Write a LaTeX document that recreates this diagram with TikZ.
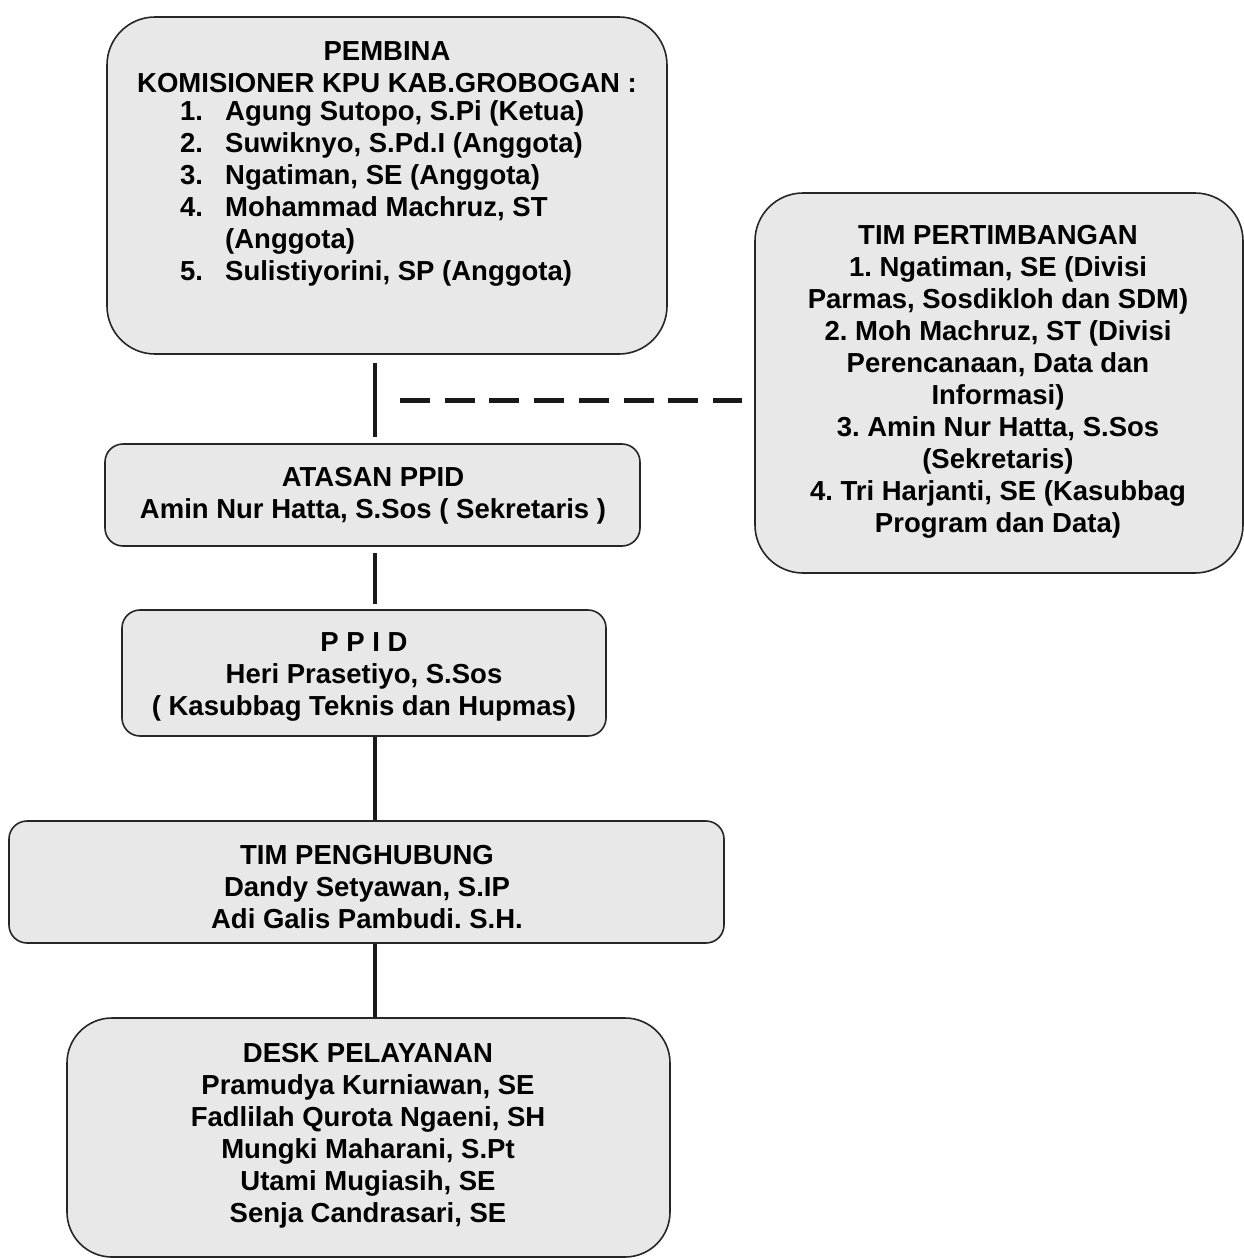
\documentclass[tikz,border=0pt]{standalone}
\usepackage{fontspec}
\setmainfont{Liberation Sans}
\frenchspacing
\begin{document}
\begin{tikzpicture}[x=1pt,y=-1pt,
  box/.style={draw=black!85, line width=1.6pt, fill=black!9, inner sep=0pt},
  bigbox/.style={box, rounded corners=48pt},
  smallbox/.style={box, rounded corners=18pt},
  txt/.style={font=\fontsize{27.5}{32}\selectfont\bfseries, align=center, inner sep=0pt},
  conn/.style={line width=4.5pt, draw=black!90},
  dashline/.style={line width=5pt, draw=black!90, dash pattern=on 30pt off 14.7pt}]
\useasboundingbox (0,0) rectangle (1244,1259);
% boxes
\node[bigbox, minimum width=560pt, minimum height=337pt] (b1) at (387,185.5) {};
\node[bigbox, minimum width=488pt, minimum height=380pt] (b2) at (999,383) {};
\node[smallbox, minimum width=535pt, minimum height=102pt] (b3) at (372.5,495) {};
\node[smallbox, minimum width=484pt, minimum height=126pt] (b4) at (364,673) {};
\node[smallbox, minimum width=715pt, minimum height=122pt] (b5) at (366.5,882) {};
\node[bigbox, rounded corners=45pt, minimum width=603pt, minimum height=239pt] (b6) at (368.5,1137.5) {};
% texts
\node[txt] (t1a) at (387,67) {PEMBINA\\KOMISIONER KPU KAB.GROBOGAN :};
\node[txt, align=left, anchor=west] (t1b) at (180,193) {%
\makebox[45pt][l]{1.}Agung Sutopo, S.Pi (Ketua)\\
\makebox[45pt][l]{2.}Suwiknyo, S.Pd.I (Anggota)\\
\makebox[45pt][l]{3.}Ngatiman, SE (Anggota)\\
\makebox[45pt][l]{4.}Mohammad Machruz, ST\\
\makebox[45pt][l]{}(Anggota)\\
\makebox[45pt][l]{5.}Sulistiyorini, SP (Anggota)};
\node[txt] (t2) at (998,382) {TIM PERTIMBANGAN\\1. Ngatiman, SE (Divisi\\Parmas, Sosdikloh dan SDM)\\2. Moh Machruz, ST (Divisi\\Perencanaan, Data dan\\Informasi)\\3. Amin Nur Hatta, S.Sos\\(Sekretaris)\\4. Tri Harjanti, SE (Kasubbag\\Program dan Data)};
\node[txt] (t3) at (373,496) {ATASAN PPID\\Amin Nur Hatta, S.Sos ( Sekretaris )};
\node[txt] (t4) at (364,677) {P P I D\\Heri Prasetiyo, S.Sos\\( Kasubbag Teknis dan Hupmas)};
\node[txt] (t5) at (367,887) {TIM PENGHUBUNG\\Dandy Setyawan, S.IP\\Adi Galis Pambudi. S.H.};
\node[txt] (t6) at (368,1136) {DESK PELAYANAN\\Pramudya Kurniawan, SE\\Fadlilah Qurota Ngaeni, SH\\Mungki Maharani, S.Pt\\Utami Mugiasih, SE\\Senja Candrasari, SE};
% connectors
\coordinate (spine) at (375,0);
\coordinate (dstart) at (400,400);
\draw[conn, shorten <=8pt, shorten >=6pt] (b1.south -| spine) -- (b3.north -| spine);
\draw[conn, shorten <=6pt, shorten >=5pt] (b3.south -| spine) -- (b4.north -| spine);
\draw[conn] (b4.south -| spine) -- (b5.north -| spine);
\draw[conn] (b5.south -| spine) -- (b6.north -| spine);
\draw[dashline, shorten >=12pt] (dstart) -- (dstart -| b2.west);
\end{tikzpicture}
\end{document}
